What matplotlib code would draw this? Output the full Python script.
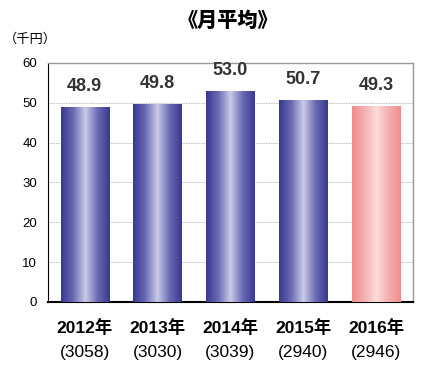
import numpy as np
import matplotlib
matplotlib.use('Agg')
import matplotlib.pyplot as plt
from matplotlib.colors import LinearSegmentedColormap

plt.rcParams['font.family'] = ['Liberation Sans', 'Noto Sans CJK JP', 'DejaVu Sans']

years = ['2012年', '2013年', '2014年', '2015年', '2016年']
counts = ['(3058)', '(3030)', '(3039)', '(2940)', '(2946)']
values = [48.9, 49.8, 53.0, 50.7, 49.3]

blue = LinearSegmentedColormap.from_list('b', ['#383890', '#6a6ab4', '#cacae8', '#6a6ab4', '#383890'])
pink = LinearSegmentedColormap.from_list('p', ['#ee8c8c', '#f4b0b0', '#fbdcdc', '#f4b0b0', '#ee8c8c'])

fig = plt.figure(figsize=(4.30, 3.86), dpi=100)
ax = fig.add_axes([0.112, 0.218, 0.848, 0.619])

x = np.arange(len(values))
bars = ax.bar(x, values, width=0.66, color='none', edgecolor='none', zorder=3)
grad = np.linspace(0, 1, 256).reshape(1, -1)
for i, b in enumerate(bars):
    cmap = pink if i == len(values) - 1 else blue
    im = ax.imshow(grad, cmap=cmap, aspect='auto', zorder=3,
                   extent=[b.get_x(), b.get_x() + b.get_width(), 0, b.get_height()])
    im.set_clip_path(b)
    ax.text(b.get_x() + b.get_width() / 2, values[i] + 3.0, f'{values[i]:.1f}',
            ha='center', va='bottom', fontsize=13, fontweight='bold', color='#333333')

ax.set_xlim(-0.5, len(values) - 0.5)
ax.set_ylim(0, 60)
ax.set_yticks(range(0, 61, 10))
ax.tick_params(axis='y', length=0, labelsize=9.5, pad=8)
ax.tick_params(axis='x', length=0)
ax.set_xticks(x)
ax.set_xticklabels([])
ax.yaxis.grid(True, color='#bbbbbb', linestyle=(0, (2, 1)), linewidth=0.6)
ax.set_axisbelow(True)
for s in ['top', 'right']:
    ax.spines[s].set_color('#999999')
    ax.spines[s].set_linewidth(1.0)
ax.spines['left'].set_color('black')
ax.spines['bottom'].set_color('black')
ax.spines['bottom'].set_linewidth(1.5)

for i in range(len(values)):
    ax.text(x[i], -6.5, years[i], ha='center', va='center', fontsize=12.5,
            fontweight='bold', transform=ax.transData)
    ax.text(x[i], -12.6, counts[i], ha='center', va='center', fontsize=12.5,
            transform=ax.transData)

fig.text(0.53, 0.945, '《月平均》', ha='center', va='center', fontsize=14.5, fontweight='heavy')
fig.text(0.008, 0.898, '（千円）', ha='left', va='center', fontsize=9.5)

fig.savefig('out.png', dpi=100)
